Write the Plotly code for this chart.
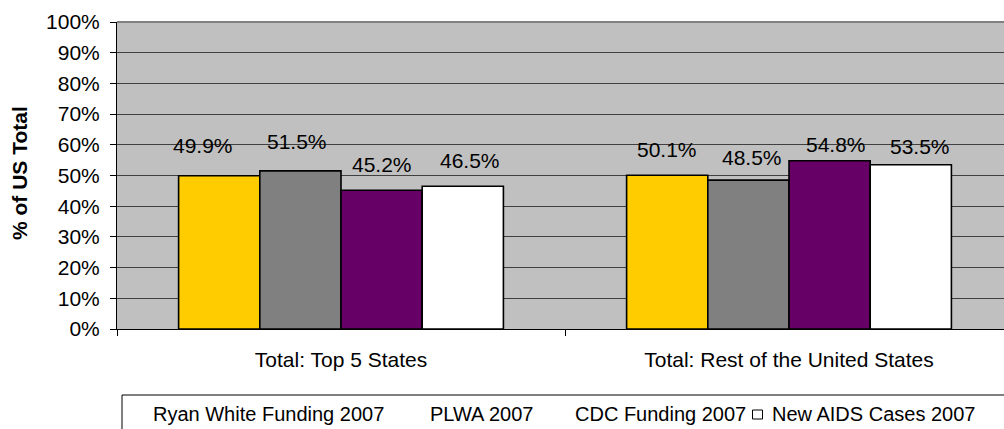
import plotly.graph_objects as go

# Share of US total, 2007
categories = ["Total: Top 5 States", "Total: Rest of the United States"]
series_names = ["Ryan White Funding 2007", "PLWA 2007", "CDC Funding 2007", "New AIDS Cases 2007"]
ryan_white = [49.9, 50.1]
plwa = [51.5, 48.5]
cdc_funding = [45.2, 54.8]
new_aids_cases = [46.5, 53.5]
y_ticks = [0, 10, 20, 30, 40, 50, 60, 70, 80, 90, 100]

series_values = [ryan_white, plwa, cdc_funding, new_aids_cases]
colors = ["#FFCC00", "#808080", "#660066", "#FFFFFF"]

# hand-placed value labels: pixel nudges (x right, y up from bar top), per series / category
label_dx = [[-16, 0], [-3, 4], [0, 6], [7, 9]]
label_dy = [[30, 26], [29, 23], [26, 16], [26, 18]]

W, H = 1004, 429
L, R, T, B = 117, 0, 22, 100
plot_w = W - L - R
plot_h = H - T - B
cat_px = 448  # pixel width of one category slot
bargap = 0.275

FONT = "Liberation Sans, Arial, sans-serif"
FS = 21
FS_LEGEND = 20

fig = go.Figure()
for name, vals, col in zip(series_names, series_values, colors):
    fig.add_trace(go.Bar(
        x=categories, y=vals, name=name,
        marker=dict(color=col, line=dict(color="#000000", width=1.6)),
        showlegend=False,
    ))

# value labels above each bar
n = len(series_values)
bar_w = (1 - bargap) / n
for k, vals in enumerate(series_values):
    for i, v in enumerate(vals):
        fig.add_annotation(
            x=i + (k - (n - 1) / 2) * bar_w, y=v, xref="x", yref="y",
            text=f"{v:.1f}%", showarrow=False,
            xanchor="center", yanchor="middle",
            xshift=label_dx[k][i], yshift=label_dy[k][i],
            font=dict(family=FONT, size=FS, color="#000000"),
        )

def px_x(p):
    return (p - L) / plot_w

def px_y(p):
    return (H - B - p) / plot_h

# y-axis title
fig.add_annotation(
    x=px_x(19), y=px_y(173), xref="paper", yref="paper",
    text="<b>% of US Total</b>", textangle=-90, showarrow=False,
    xanchor="center", yanchor="middle",
    font=dict(family=FONT, size=FS, color="#000000"),
)

# plot-area top border
fig.add_shape(type="line", xref="paper", yref="paper", x0=0, x1=1, y0=1, y1=1,
              line=dict(color="#808080", width=2))

# legend box (runs off the bottom-right of the page)
fig.add_shape(type="rect", xref="paper", yref="paper",
              x0=px_x(122), x1=px_x(1010), y0=px_y(395), y1=px_y(440),
              line=dict(color="#000000", width=1), fillcolor="#FFFFFF", layer="above")
legend_x = [151, 428, 573, 770]
for name, lx in zip(series_names, legend_x):
    fig.add_annotation(
        x=px_x(lx), y=px_y(414), xref="paper", yref="paper",
        text=name, showarrow=False, xanchor="left", yanchor="middle",
        font=dict(family=FONT, size=FS_LEGEND, color="#000000"),
    )
fig.add_shape(type="rect", xref="paper", yref="paper",
              x0=px_x(752.5), x1=px_x(762.5), y0=px_y(419), y1=px_y(410),
              line=dict(color="#000000", width=1), fillcolor=colors[3], layer="above")

fig.update_layout(
    width=W, height=H,
    margin=dict(l=L, r=R, t=T, b=B, pad=0),
    barmode="group", bargap=bargap, bargroupgap=0,
    plot_bgcolor="#C0C0C0", paper_bgcolor="#FFFFFF",
    font=dict(family=FONT, size=FS, color="#000000"),
    xaxis=dict(
        type="category", range=[-0.5, -0.5 + plot_w / cat_px],
        tickson="boundaries", ticks="outside", ticklen=6, tickcolor="#000000",
        showline=True, linecolor="#000000", linewidth=1,
        showgrid=False, ticklabelstandoff=12,
        tickfont=dict(family=FONT, size=FS),
    ),
    yaxis=dict(
        range=[0, 100], tickvals=y_ticks, ticktext=[f"{t}%" for t in y_ticks],
        ticks="outside", ticklen=6, tickcolor="#000000",
        showline=True, linecolor="#000000", linewidth=1,
        showgrid=True, gridcolor="#404040", gridwidth=1,
        zeroline=False, ticklabelstandoff=6,
        tickfont=dict(family=FONT, size=FS),
    ),
)

fig.write_html("out.html")
